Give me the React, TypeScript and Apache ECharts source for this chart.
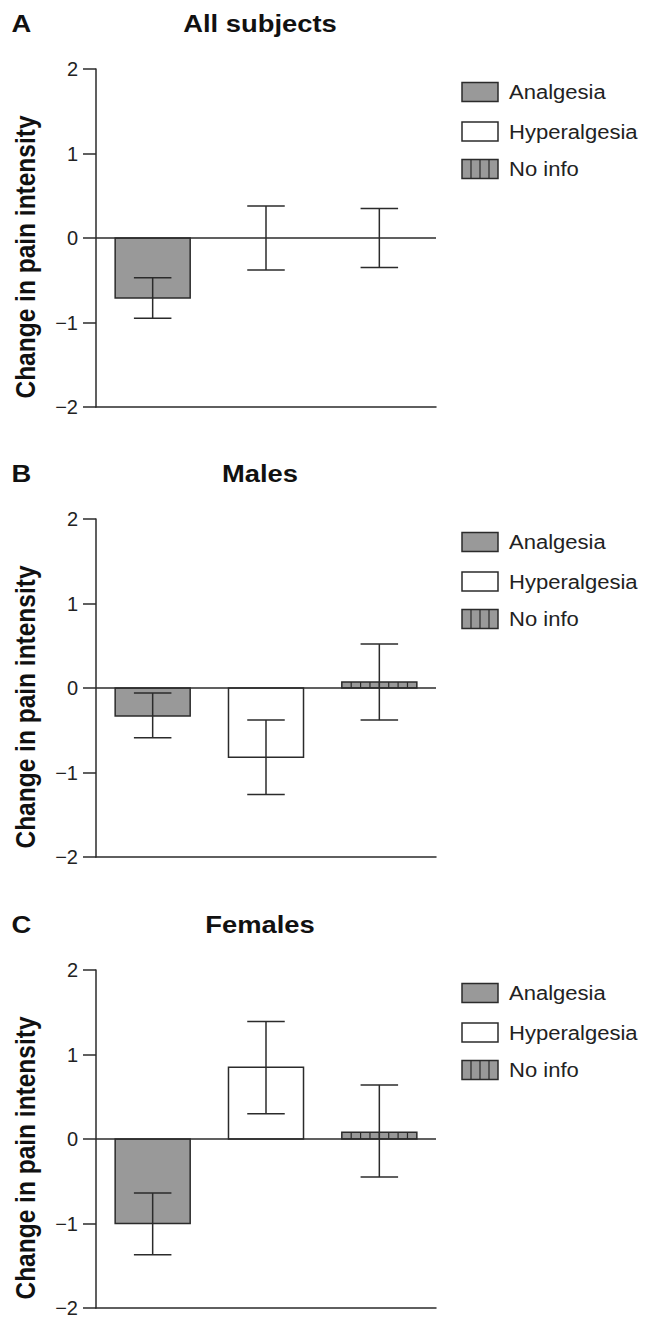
import React, { useEffect, useRef } from 'react';
import * as echarts from 'echarts';

const categories = ['Analgesia', 'Hyperalgesia', 'No info'];
const panelLetters = ['A', 'B', 'C'];
const panelTitles = ['All subjects', 'Males', 'Females'];
const yTicks = [-2, -1, 0, 1, 2];
const yAxisTitle = 'Change in pain intensity';

const allMeans = [-0.71, 0, 0];
const allLower = [-0.95, -0.38, -0.35];
const allUpper = [-0.47, 0.38, 0.35];

const maleMeans = [-0.33, -0.82, 0.07];
const maleLower = [-0.59, -1.26, -0.38];
const maleUpper = [-0.06, -0.38, 0.52];

const femaleMeans = [-1.0, 0.85, 0.08];
const femaleLower = [-1.37, 0.3, -0.45];
const femaleUpper = [-0.64, 1.39, 0.64];

const panels = [
  { means: allMeans, lower: allLower, upper: allUpper },
  { means: maleMeans, lower: maleLower, upper: maleUpper },
  { means: femaleMeans, lower: femaleLower, upper: femaleUpper },
];

const INK = '#2b2b2b';
const FILLS = ['#999999', '#ffffff', '#999999'];
const FONT = '"Liberation Sans", Arial, Helvetica, sans-serif';
const GRID_TOPS = [69, 519, 970];
const GRID_LEFT = 96;
const GRID_W = 340;
const GRID_H = 338;
const SX = 1.14;

const fmt = (v: number) => (v < 0 ? '\u2212' + Math.abs(v) : String(v));

const renderBar = (params: any, api: any) => {
  const i = api.value(0);
  const mean = api.value(1);
  const lo = api.value(2);
  const hi = api.value(3);
  const base = api.coord([i, 0]);
  const top = api.coord([i, mean]);
  const bw = api.size([1, 0])[0] * 0.662;
  const x0 = base[0] - bw / 2;
  const y0 = Math.min(base[1], top[1]);
  const h = Math.abs(base[1] - top[1]);
  const children: any[] = [];
  if (h > 0.5) {
    children.push({
      type: 'rect',
      shape: { x: x0, y: y0, width: bw, height: h },
      style: { fill: FILLS[i], stroke: INK, lineWidth: 1.5 },
    });
  }
  if (i === 2 && h > 0.5) {
    for (let k = 1; k < 8; k++) {
      const xx = x0 + (k * bw) / 8;
      children.push({
        type: 'line',
        shape: { x1: xx, y1: y0, x2: xx, y2: y0 + h },
        style: { stroke: INK, lineWidth: 1.2 },
      });
    }
  }
  const pLo = api.coord([i, lo]);
  const pHi = api.coord([i, hi]);
  const cw = bw * 0.5;
  const cx = base[0];
  children.push({
    type: 'line',
    shape: { x1: cx, y1: pHi[1], x2: cx, y2: pLo[1] },
    style: { stroke: INK, lineWidth: 1.5 },
  });
  children.push({
    type: 'line',
    shape: { x1: cx - cw / 2, y1: pHi[1], x2: cx + cw / 2, y2: pHi[1] },
    style: { stroke: INK, lineWidth: 1.5 },
  });
  children.push({
    type: 'line',
    shape: { x1: cx - cw / 2, y1: pLo[1], x2: cx + cw / 2, y2: pLo[1] },
    style: { stroke: INK, lineWidth: 1.5 },
  });
  return { type: 'group', children };
};

function buildOption() {
  const grid: any[] = [];
  const xAxis: any[] = [];
  const yAxis: any[] = [];
  const series: any[] = [];
  const graphic: any[] = [];

  panels.forEach((p, pi) => {
    const top = GRID_TOPS[pi];
    grid.push({ left: GRID_LEFT, top, width: GRID_W, height: GRID_H, containLabel: false });
    xAxis.push({
      type: 'category',
      gridIndex: pi,
      data: categories,
      boundaryGap: true,
      axisLine: { onZero: false, lineStyle: { color: INK, width: 1.5 } },
      axisTick: { alignWithLabel: true, length: 13, lineStyle: { color: INK, width: 1.5 } },
      axisLabel: { show: false },
      splitLine: { show: false },
    });
    yAxis.push({
      type: 'value',
      gridIndex: pi,
      min: yTicks[0],
      max: yTicks[yTicks.length - 1],
      interval: 1,
      axisLine: { show: true, lineStyle: { color: INK, width: 1.5 } },
      axisTick: { show: true, length: 13, lineStyle: { color: INK, width: 1.5 } },
      axisLabel: { formatter: fmt, fontSize: 20, color: '#222', fontFamily: FONT, margin: 18 },
      splitLine: { show: false },
    });
    series.push({
      type: 'custom',
      xAxisIndex: pi,
      yAxisIndex: pi,
      renderItem: renderBar,
      encode: { x: 0, y: 1 },
      data: categories.map((_, i) => [i, p.means[i], p.lower[i], p.upper[i]]),
      markLine: {
        silent: true,
        symbol: ['none', 'none'],
        label: { show: false },
        lineStyle: { color: INK, width: 1.5, type: 'solid' },
        data: [{ yAxis: 0 }],
      },
      z: 3,
    });

    const off = top - GRID_TOPS[0];
    graphic.push({
      type: 'text',
      x: 25,
      y: 257 + off,
      rotation: Math.PI / 2,
      scaleY: SX,
      style: { text: yAxisTitle, font: `bold 24.5px ${FONT}`, fill: '#111', align: 'center', verticalAlign: 'middle' },
    });
    graphic.push({
      type: 'text',
      x: 11.5,
      y: 24 + off,
      scaleX: SX,
      style: { text: panelLetters[pi], font: `bold 24px ${FONT}`, fill: '#111', align: 'left', verticalAlign: 'middle' },
    });
    graphic.push({
      type: 'text',
      x: 260,
      y: 24 + off,
      scaleX: SX,
      style: { text: panelTitles[pi], font: `bold 24px ${FONT}`, fill: '#111', align: 'center', verticalAlign: 'middle' },
    });
    const rowYs = [92, 131.5, 169];
    categories.forEach((c, i) => {
      const ry = rowYs[i] + off;
      graphic.push({
        type: 'rect',
        shape: { x: 462, y: ry - 9.5, width: 36, height: 19 },
        style: { fill: FILLS[i], stroke: INK, lineWidth: 1.5 },
      });
      if (i === 2) {
        for (let k = 1; k < 4; k++) {
          graphic.push({
            type: 'line',
            shape: { x1: 462 + k * 9, y1: ry - 9.5, x2: 462 + k * 9, y2: ry + 9.5 },
            style: { stroke: INK, lineWidth: 1.2 },
          });
        }
      }
      graphic.push({
        type: 'text',
        x: 509,
        y: ry,
        scaleX: 1.13,
        style: { text: c, font: `19.5px ${FONT}`, fill: '#222', align: 'left', verticalAlign: 'middle' },
      });
    });
  });

  return { animation: false, backgroundColor: '#ffffff', grid, xAxis, yAxis, series, graphic };
}

export default function App() {
  const ref = useRef<HTMLDivElement>(null);
  useEffect(() => {
    if (!ref.current) return;
    const chart = echarts.init(ref.current, undefined, { renderer: 'svg' });
    chart.setOption(buildOption() as any);
    return () => chart.dispose();
  }, []);
  return (
    <div
      ref={ref}
      style={{ position: 'absolute', left: 0, top: 0, width: 650, height: 1334, background: '#fff' }}
    />
  );
}
